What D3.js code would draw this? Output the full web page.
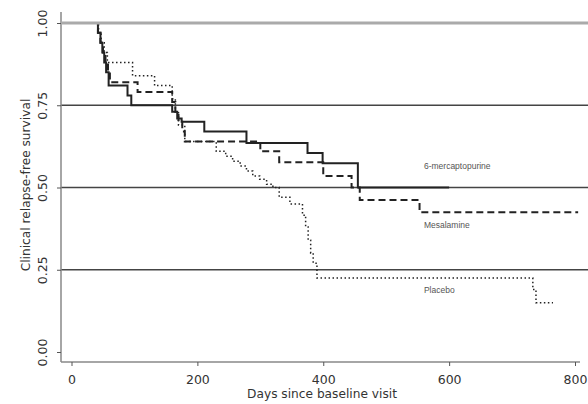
<!DOCTYPE html>
<html>
<head>
<meta charset="utf-8">
<script src="https://cdn.jsdelivr.net/npm/d3@7"></script>
<style>
	body { margin: 0; background: #fff; }
	svg { display: block; }
	.tick text { font-family: "DejaVu Sans", sans-serif; fill: #333; }
	.graph-label { font-family: "DejaVu Sans", sans-serif; font-size: 12.2px; fill: #333; }
	.curve-label { font-family: "Liberation Sans", Arial, sans-serif; font-size: 8.5px; fill: #555; }
</style>
</head>
<body>
<svg id="svg-km"></svg>
<script>
// Kaplan-Meier step data
const mpDays = [0, 42, 46, 49, 52, 55, 59, 89, 95, 160, 168, 175, 211, 278, 375, 399, 455, 600];
const mpSurv = [1.00, 0.97, 0.94, 0.91, 0.88, 0.85, 0.81, 0.78, 0.75, 0.73, 0.71, 0.70, 0.67, 0.635, 0.605, 0.574, 0.50, 0.50];

const mesDays = [0, 42, 46, 50, 54, 58, 61, 105, 160, 165, 170, 176, 180, 300, 330, 400, 445, 458, 553, 805];
const mesSurv = [1.00, 0.97, 0.94, 0.91, 0.88, 0.85, 0.82, 0.79, 0.76, 0.73, 0.70, 0.67, 0.64, 0.61, 0.577, 0.535, 0.50, 0.462, 0.425, 0.425];

const plaDays = [0, 43, 47, 52, 57, 97, 132, 160, 165, 170, 180, 230, 245, 256, 268, 278, 288, 299, 310, 320, 330, 347, 367, 372, 376, 380, 384, 390, 733, 738, 765];
const plaSurv = [1.00, 0.97, 0.94, 0.91, 0.88, 0.84, 0.81, 0.77, 0.73, 0.69, 0.64, 0.61, 0.595, 0.58, 0.565, 0.55, 0.535, 0.525, 0.51, 0.50, 0.47, 0.45, 0.416, 0.38, 0.34, 0.30, 0.27, 0.225, 0.19, 0.15, 0.15];

const xTicks = [0, 200, 400, 600, 800];
const yTicks = [0, 0.25, 0.5, 0.75, 1];
const gridLevels = [0.25, 0.5, 0.75];
const topLevel = 1;

const curveLabels = [
	{text: "6-mercaptopurine", day: 560, surv: 0.555},
	{text: "Mesalamine", day: 560, surv: 0.377},
	{text: "Placebo", day: 560, surv: 0.18}
];

const WIDTH = 588, HEIGHT = 404;
const AXIS_X = 61, AXIS_Y = 362;

const xScale = d3.scaleLinear().domain([0, 800]).range([71.5, 575]);
const yScale = d3.scaleLinear().domain([0, 1]).range([352, 23]);

const svg = d3.select("#svg-km").attr("width", WIDTH).attr("height", HEIGHT);
const chart = svg.append("g");

// Reference lines
chart.selectAll(".grid")
	.data(gridLevels)
	.enter()
	.append("line")
	.attr("x1", AXIS_X)
	.attr("x2", WIDTH)
	.attr("y1", d => yScale(d))
	.attr("y2", d => yScale(d))
	.attr("stroke", "#444")
	.attr("stroke-width", 1.4);

// Axis frame (L shape)
chart.append("line")
	.attr("x1", AXIS_X).attr("x2", AXIS_X)
	.attr("y1", 12).attr("y2", AXIS_Y)
	.attr("stroke", "#888").attr("stroke-width", 1.5);
chart.append("line")
	.attr("x1", AXIS_X).attr("x2", 580)
	.attr("y1", AXIS_Y).attr("y2", AXIS_Y)
	.attr("stroke", "#888").attr("stroke-width", 1.5);

// Y-axis
const yAxis = chart.append("g")
	.attr("transform", `translate(${AXIS_X}, 0)`)
	.call(d3.axisLeft(yScale).tickValues(yTicks).tickFormat(d3.format(".2f")).tickSize(4).tickSizeOuter(0))
	.attr("color", "#555");
yAxis.select(".domain").remove();
yAxis.selectAll("text")
	.attr("transform", "rotate(-90)")
	.attr("x", 0)
	.attr("y", -14)
	.attr("dy", 0)
	.style("text-anchor", "middle")
	.style("font-size", "12.5px");

// X-axis
const xAxis = chart.append("g")
	.attr("transform", `translate(0, ${AXIS_Y})`)
	.call(d3.axisBottom(xScale).tickValues(xTicks).tickSize(4).tickSizeOuter(0))
	.attr("color", "#555");
xAxis.select(".domain").remove();
xAxis.selectAll("text")
	.attr("y", 13)
	.style("font-size", "12.5px");

chart.append("text")
	.attr("class", "graph-label")
	.attr("x", 322)
	.attr("y", 398)
	.style("text-anchor", "middle")
	.text("Days since baseline visit");

chart.append("text")
	.attr("class", "graph-label")
	.attr("x", -185)
	.attr("y", 30)
	.style("text-anchor", "middle")
	.attr("transform", "rotate(-90)")
	.text("Clinical relapse-free survival");

// Survival curves
const stepLine = d3.line()
	.curve(d3.curveStepAfter)
	.x(d => xScale(d[0]))
	.y(d => yScale(d[1]));

const series = [
	{days: plaDays, surv: plaSurv, dash: "1.5,2.5", width: 1.5},
	{days: mesDays, surv: mesSurv, dash: "7,4", width: 2},
	{days: mpDays, surv: mpSurv, dash: null, width: 2}
];

series.forEach(s => {
	chart.append("path")
		.datum(d3.zip(s.days, s.surv))
		.attr("fill", "none")
		.attr("stroke", "#222")
		.attr("stroke-width", s.width)
		.attr("stroke-dasharray", s.dash)
		.attr("d", stepLine);
});

// Top reference line drawn over the curves' starting plateau
chart.append("line")
	.attr("x1", AXIS_X)
	.attr("x2", WIDTH)
	.attr("y1", yScale(topLevel))
	.attr("y2", yScale(topLevel))
	.attr("stroke", "#aaa")
	.attr("stroke-width", 3);

chart.selectAll(".curve-label")
	.data(curveLabels)
	.enter()
	.append("text")
	.attr("class", "curve-label")
	.attr("x", d => xScale(d.day))
	.attr("y", d => yScale(d.surv))
	.text(d => d.text);
</script>
</body>
</html>
